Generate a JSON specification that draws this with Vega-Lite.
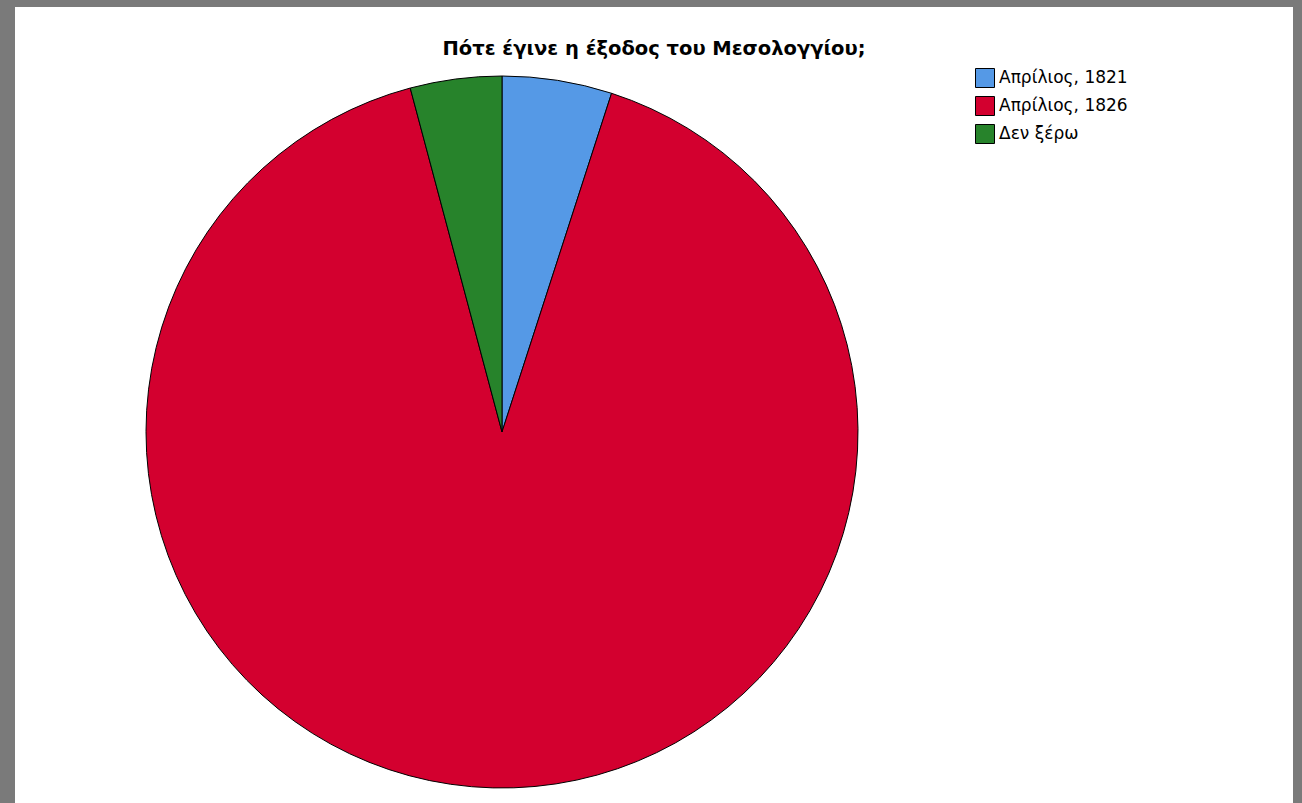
{
  "$schema": "https://vega.github.io/schema/vega-lite/v6.json",
  "background": "#7a7a7a",
  "padding": {"left": 15, "top": 7, "right": 9, "bottom": 0},
  "data": {
    "values": [
      {"answer": "Απρίλιος, 1821", "count": 12, "order": 1},
      {"answer": "Απρίλιος, 1826", "count": 219, "order": 2},
      {"answer": "Δεν ξέρω", "count": 10, "order": 3}
    ]
  },
  "spacing": 0,
  "hconcat": [
    {
      "width": 974,
      "height": 850,
      "view": {"fill": "white", "stroke": "white", "strokeWidth": 0},
      "title": {
        "text": "Πότε έγινε η έξοδος του Μεσολογγίου;",
        "font": "DejaVu Sans",
        "fontSize": 19.5,
        "fontWeight": "bold",
        "color": "black",
        "anchor": "middle",
        "frame": "group",
        "dx": 152,
        "offset": -52
      },
      "mark": {"type": "arc", "outerRadius": 356, "stroke": "black", "strokeWidth": 1},
      "encoding": {
        "theta": {"field": "count", "type": "quantitative", "stack": true},
        "order": {"field": "order", "type": "quantitative"},
        "color": {
          "field": "answer",
          "type": "nominal",
          "scale": {
            "domain": ["Απρίλιος, 1821", "Απρίλιος, 1826", "Δεν ξέρω"],
            "range": ["#5599e6", "#d3002f", "#27832b"]
          },
          "legend": {
            "orient": "none",
            "legendX": 960,
            "legendY": 61,
            "title": null,
            "symbolType": "square",
            "symbolSize": 361,
            "symbolStrokeColor": "black",
            "symbolStrokeWidth": 1,
            "symbolOpacity": 1,
            "labelFont": "DejaVu Sans",
            "labelFontSize": 17,
            "labelColor": "black",
            "labelOffset": 4,
            "rowPadding": 4
          }
        }
      }
    },
    {
      "width": 304,
      "height": 850,
      "view": {"fill": "white", "stroke": "white", "strokeWidth": 0},
      "mark": {"type": "text"},
      "encoding": {"text": {"value": ""}}
    }
  ],
  "resolve": {"scale": {"color": "shared"}, "legend": {"color": "shared"}}
}
